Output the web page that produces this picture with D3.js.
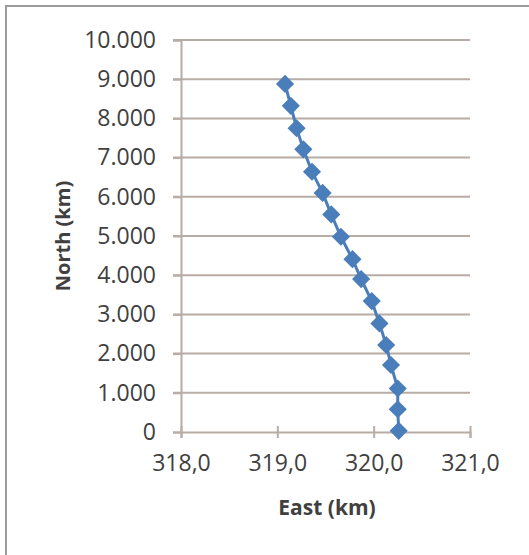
<!DOCTYPE html>
<html>
<head>
<meta charset="utf-8">
<script src="https://cdn.jsdelivr.net/npm/d3@7"></script>
<style>
  body { margin: 0; background: #fff; }
  svg { display: block; }
  text { font-family: "Open Sans", sans-serif; fill: #404040; }
</style>
</head>
<body>
<svg width="529" height="555"></svg>
<script>
// East/North positions (km)
var east = [319.08, 319.14, 319.20, 319.27, 319.36, 319.47, 319.56, 319.66, 319.78,
            319.87, 319.98, 320.06, 320.13, 320.18, 320.25, 320.25, 320.26];
var north = [8.88, 8.32, 7.75, 7.21, 6.64, 6.10, 5.55, 4.98, 4.41,
             3.90, 3.34, 2.77, 2.22, 1.71, 1.11, 0.58, 0.03];
var xTicks = [318, 319, 320, 321];
var yTicks = [0, 1, 2, 3, 4, 5, 6, 7, 8, 9, 10];

var svg = d3.select("svg");
var gridColor = "#b8aca6";

// chart frame
svg.append("path")
  .attr("d", "M6,555V6H529")
  .attr("fill", "none")
  .attr("stroke", "#9c9c9c")
  .attr("stroke-width", 2);

var x = d3.scaleLinear().domain([318, 321]).range([181, 470]);
var y = d3.scaleLinear().domain([0, 10]).range([432, 40]);

// horizontal grid
svg.append("g").selectAll("line")
  .data(yTicks.slice(1))
  .enter().append("line")
  .attr("x1", 173).attr("x2", 470)
  .attr("y1", function(d) { return y(d); })
  .attr("y2", function(d) { return y(d); })
  .attr("stroke", gridColor)
  .attr("stroke-width", 2);

// y axis
var yAxis = svg.append("g")
  .attr("transform", "translate(" + x(318) + ",0)")
  .call(d3.axisLeft(y).tickValues(yTicks).tickSize(8).tickPadding(17)
    .tickFormat(function(d) { return d === 0 ? "0" : d + ".000"; }));

// x axis
var xAxis = svg.append("g")
  .attr("transform", "translate(0," + y(0) + ")")
  .call(d3.axisBottom(x).tickValues(xTicks).tickSize(6).tickPadding(17)
    .tickFormat(function(d) { return d3.format(".1f")(d).replace(".", ","); }));

[yAxis, xAxis].forEach(function(a) {
  a.select(".domain").attr("stroke", gridColor).attr("stroke-width", 2);
  a.selectAll(".tick line").attr("stroke", gridColor).attr("stroke-width", 2);
  a.selectAll("text").style("font-size", "23px").attr("fill", "#3a3a3a")
    .style("font-family", "'Open Sans', sans-serif");
});
xAxis.selectAll(".tick line").attr("y1", -6);

// axis titles
svg.append("text")
  .attr("x", 327).attr("y", 515)
  .attr("text-anchor", "middle")
  .style("font-size", "21px").style("font-weight", "bold")
  .attr("fill", "#1a1a1a")
  .text("East (km)");

svg.append("text")
  .attr("transform", "translate(70,236) rotate(-90)")
  .attr("text-anchor", "middle")
  .style("font-size", "20px").style("font-weight", "bold")
  .attr("fill", "#1a1a1a")
  .text("North (km)");

// markers
var pts = east.map(function(e, i) { return [e, north[i]]; });
svg.append("path")
  .datum(pts)
  .attr("fill", "none")
  .attr("stroke", "#4a7ebb")
  .attr("stroke-width", 3)
  .attr("d", d3.line().x(function(d) { return x(d[0]); }).y(function(d) { return y(d[1]); }));

svg.append("g").selectAll("path")
  .data(pts)
  .enter().append("path")
  .attr("transform", function(d) { return "translate(" + x(d[0]) + "," + y(d[1]) + ")"; })
  .attr("d", d3.symbol().type(d3.symbolDiamond2).size(210))
  .attr("fill", "#4a7ebb");
</script>
</body>
</html>
